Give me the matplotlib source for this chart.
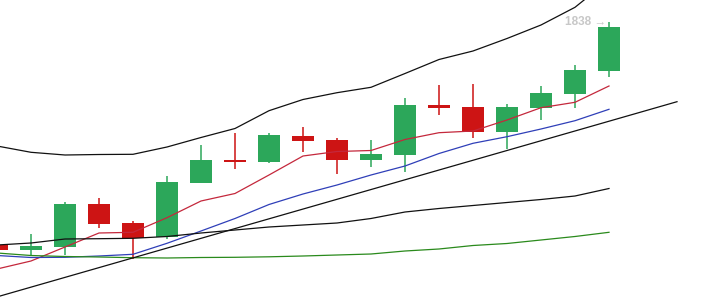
import matplotlib
matplotlib.use("Agg")
import matplotlib.pyplot as plt
from matplotlib.patches import Rectangle
import numpy as np

# ---- data (prices) ----
opens  = [1615.0, 1610.0, 1613.3, 1656.0, 1637.0, 1623.3, 1677.3, 1699.7, 1698.3, 1724.0,
          1720.0, 1700.0, 1705.0, 1755.0, 1753.0, 1728.3, 1752.3, 1766.3, 1789.3]
highs  = [1615.5, 1626.0, 1658.3, 1662.0, 1639.0, 1684.0, 1715.3, 1726.7, 1727.3, 1733.3,
          1721.7, 1720.0, 1761.7, 1775.0, 1776.0, 1756.3, 1774.0, 1794.7, 1837.6]
lows   = [1609.5, 1605.0, 1605.0, 1632.3, 1600.7, 1621.0, 1677.0, 1690.7, 1697.3, 1708.3,
          1685.7, 1693.3, 1688.3, 1745.0, 1722.3, 1710.7, 1740.0, 1752.3, 1783.3]
closes = [1610.0, 1614.0, 1656.0, 1636.3, 1622.3, 1678.0, 1700.0, 1698.0, 1725.0, 1719.0,
          1700.0, 1706.0, 1755.0, 1752.3, 1728.3, 1753.0, 1767.0, 1790.0, 1833.0]

upper_band = [1714.0, 1707.7, 1705.0, 1705.5, 1705.7, 1713.0, 1722.5, 1731.5, 1749.3, 1760.5,
              1767.3, 1772.7, 1786.5, 1800.5, 1809.0, 1821.5, 1835.0, 1852.7, 1880.0]
ma_red     = [1591.0, 1599.0, 1613.0, 1627.0, 1627.7, 1642.3, 1659.0, 1666.5, 1685.0, 1704.0,
              1708.5, 1709.5, 1720.5, 1727.3, 1729.0, 1740.0, 1752.3, 1757.7, 1774.0]
ma_blue    = [1604.5, 1602.5, 1602.7, 1604.0, 1605.7, 1616.7, 1629.0, 1641.5, 1655.5, 1666.0,
              1675.0, 1685.0, 1694.0, 1706.5, 1716.7, 1723.3, 1731.0, 1739.3, 1750.7]
ma_black   = [1615.0, 1617.0, 1621.0, 1621.3, 1621.7, 1623.5, 1627.0, 1630.0, 1633.0, 1635.0,
              1637.0, 1641.5, 1648.0, 1651.5, 1654.5, 1657.5, 1660.5, 1664.0, 1671.5]
ma_green   = [1607.0, 1604.5, 1603.5, 1603.0, 1602.3, 1602.0, 1602.5, 1602.7, 1603.2, 1604.0,
              1605.0, 1606.0, 1609.0, 1611.0, 1614.5, 1616.5, 1620.0, 1623.5, 1627.7]
trend_idx  = [0, 20]
trend_val  = [1563.1, 1758.3]
label_text = "1838 \u2192"

GREEN = "#2ca75a"
RED = "#cd1414"

fig = plt.figure(figsize=(7.01, 2.97), dpi=100)
ax = fig.add_axes([0, 0, 1, 1])
ax.set_xlim(3 / 34, 704 / 34)
ax.set_ylim(1563, 1860)
ax.axis("off")

idx = np.arange(len(opens))
bw = 22 / 34
for i in idx:
    o, h, l, c = opens[i], highs[i], lows[i], closes[i]
    col = GREEN if c >= o else RED
    ax.vlines(i, l, h, color=col, lw=1.1, zorder=2)
    bot = min(o, c)
    ht = max(abs(c - o), 1.5)
    ax.add_patch(Rectangle((i - bw / 2, bot), bw, ht, facecolor=col, edgecolor="none", zorder=3))

ax.plot(idx, upper_band, color="#111111", lw=0.9, zorder=4)
ax.plot(idx, ma_red, color="#c4283c", lw=0.9, zorder=4)
ax.plot(idx, ma_blue, color="#2f3fb8", lw=0.9, zorder=4)
ax.plot(idx, ma_black, color="#111111", lw=0.9, zorder=4)
ax.plot(idx, ma_green, color="#2a8a1c", lw=0.9, zorder=4)
ax.plot(trend_idx, trend_val, color="#111111", lw=0.9, zorder=4)

ax.text(17.91, max(highs) + 0.8, label_text, color="#c8c8c8", fontsize=8.5, fontweight="bold",
        family=["Liberation Sans", "DejaVu Sans"],
        ha="right", va="center", zorder=5)

fig.savefig("out.png", dpi=100)
